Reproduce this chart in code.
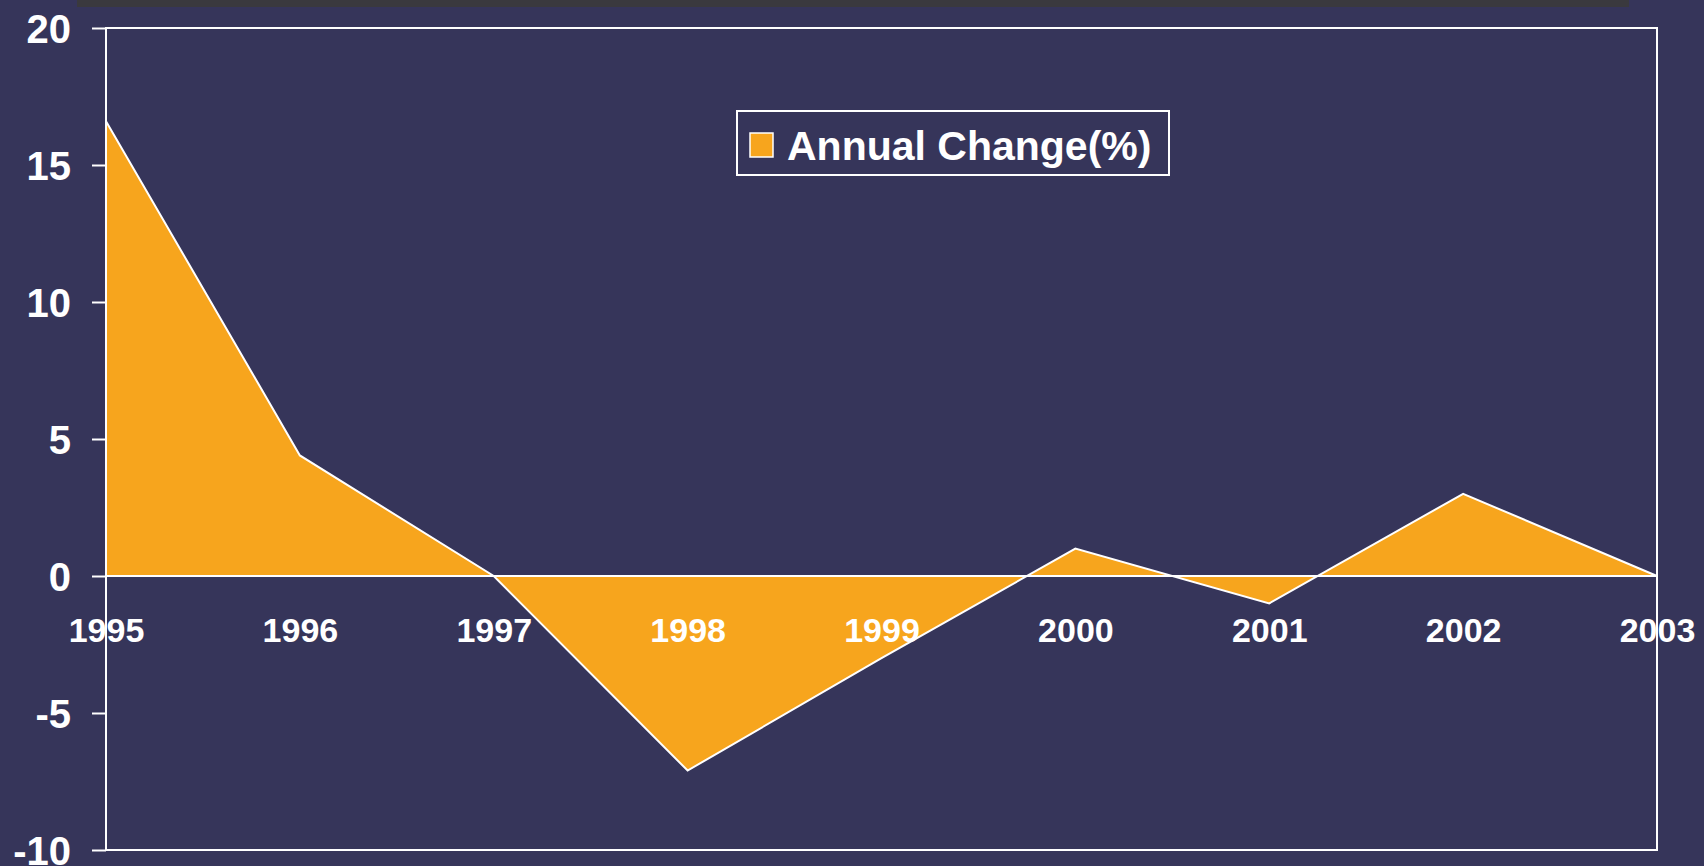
<!DOCTYPE html>
<meta charset="utf-8" />

<script src="https://d3js.org/d3.v7.min.js"></script>

<div id="chart"></div>

<style>
  html,
  body {
    margin: 0;
    padding: 0;
    overflow: hidden;
    background: #36355a;
  }
  text {
    font-family: "Liberation Sans", Arial, sans-serif;
    font-weight: bold;
    fill: #ffffff;
  }
</style>

<script>
  var width = 1704;
  var height = 866;

  // data
  var years = [1995, 1996, 1997, 1998, 1999, 2000, 2001, 2002, 2003];
  var change = [16.6, 4.4, 0, -7.1, -3.0, 1.0, -1.0, 3.0, 0];
  var yTicks = [-10, -5, 0, 5, 10, 15, 20];
  var seriesName = "Annual Change(%)";

  // plot box (note: "top" is taken by window.top)
  var plotLeft = 106,
    plotRight = 1657,
    plotTop = 28,
    plotBottom = 850;

  var svg = d3
    .select("#chart")
    .append("svg")
    .attr("width", width)
    .attr("height", height);

  svg
    .append("rect")
    .attr("width", width)
    .attr("height", height)
    .attr("fill", "#36355a");

  // dark strip along the top
  svg
    .append("rect")
    .attr("x", 77)
    .attr("y", 0)
    .attr("width", 1629 - 77)
    .attr("height", 7)
    .attr("fill", "#3a393e");

  var x = d3
    .scaleLinear()
    .domain([years[0], years[years.length - 1]])
    .range([plotLeft, plotRight]);

  var y = d3
    .scaleLinear()
    .domain([-10, 20])
    .range([plotBottom, plotTop]);

  var data = years.map(function(d, i) {
    return { year: d, value: change[i] };
  });

  var area = d3
    .area()
    .x(function(d) {
      return x(d.year);
    })
    .y0(y(0))
    .y1(function(d) {
      return y(d.value);
    });

  var line = d3
    .line()
    .x(function(d) {
      return x(d.year);
    })
    .y(function(d) {
      return y(d.value);
    });

  svg
    .append("path")
    .datum(data)
    .attr("d", area)
    .attr("fill", "#f7a51d");

  svg
    .append("path")
    .datum(data)
    .attr("d", line)
    .attr("fill", "none")
    .attr("stroke", "#ffffff")
    .attr("stroke-width", 2)
    .attr("stroke-linejoin", "miter");

  // plot frame
  svg
    .append("rect")
    .attr("x", plotLeft)
    .attr("y", plotTop)
    .attr("width", plotRight - plotLeft)
    .attr("height", plotBottom - plotTop)
    .attr("fill", "none")
    .attr("stroke", "#ffffff")
    .attr("stroke-width", 2);

  // zero line
  svg
    .append("line")
    .attr("x1", plotLeft)
    .attr("x2", plotRight)
    .attr("y1", y(0))
    .attr("y2", y(0))
    .attr("stroke", "#ffffff")
    .attr("stroke-width", 2);

  // plain hyphen for negatives, like the original
  var plain = function(d) {
    return String(d);
  };

  // y axis
  var yAxis = svg
    .append("g")
    .attr("transform", "translate(" + plotLeft + ",0)")
    .call(
      d3
        .axisLeft(y)
        .tickValues(yTicks)
        .tickSize(14)
        .tickPadding(21)
        .tickFormat(plain)
    );
  yAxis.select(".domain").remove();
  yAxis
    .selectAll("line")
    .attr("stroke", "#ffffff")
    .attr("stroke-width", 2);
  yAxis
    .selectAll("text")
    .attr("font-size", 40)
    .attr("font-family", "Liberation Sans, Arial, sans-serif")
    .attr("font-weight", "bold")
    .attr("fill", "#ffffff")
    .attr("dy", "0.36em");

  // x labels sit under the zero line
  var xAxis = svg
    .append("g")
    .attr("transform", "translate(0," + y(0) + ")")
    .call(
      d3
        .axisBottom(x)
        .tickValues(years)
        .tickSize(0)
        .tickPadding(0)
        .tickFormat(plain)
    );
  xAxis.select(".domain").remove();
  xAxis
    .selectAll("text")
    .attr("font-size", 34)
    .attr("font-family", "Liberation Sans, Arial, sans-serif")
    .attr("font-weight", "bold")
    .attr("fill", "#ffffff")
    .attr("y", 66)
    .attr("dy", 0);

  // legend
  var legend = svg.append("g");
  legend
    .append("rect")
    .attr("x", 737)
    .attr("y", 111)
    .attr("width", 1169 - 737)
    .attr("height", 175 - 111)
    .attr("fill", "none")
    .attr("stroke", "#ffffff")
    .attr("stroke-width", 2);
  legend
    .append("rect")
    .attr("x", 750)
    .attr("y", 133)
    .attr("width", 23)
    .attr("height", 24)
    .attr("fill", "#f7a51d")
    .attr("stroke", "#ffffff")
    .attr("stroke-width", 1.5);
  legend
    .append("text")
    .attr("x", 787)
    .attr("y", 160)
    .attr("font-size", 41)
    .text(seriesName);
</script>
